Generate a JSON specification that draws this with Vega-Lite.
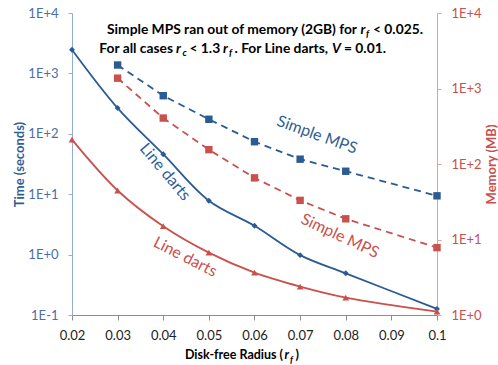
{
  "$schema": "https://vega.github.io/schema/vega-lite/v6.json",
  "autosize": "none",
  "width": 365,
  "height": 302,
  "padding": {"left": 72, "top": 13, "right": 61, "bottom": 50},
  "background": "white",
  "config": {"view": {"stroke": null}, "font": "Lato"},
  "datasets": {
    "rows": [
      {"r": 0.02, "method": "Line darts", "time": 2470, "memory": 210},
      {"r": 0.03, "method": "Line darts", "time": 267, "memory": 44.6},
      {"r": 0.04, "method": "Line darts", "time": 46, "memory": 15},
      {"r": 0.05, "method": "Line darts", "time": 7.8, "memory": 6.7},
      {"r": 0.06, "method": "Line darts", "time": 3.0, "memory": 3.64},
      {"r": 0.07, "method": "Line darts", "time": 0.98, "memory": 2.38},
      {"r": 0.08, "method": "Line darts", "time": 0.49, "memory": 1.70},
      {"r": 0.1, "method": "Line darts", "time": 0.126, "memory": 1.11},
      {"r": 0.03, "method": "Simple MPS", "time": 1377, "memory": 1370},
      {"r": 0.04, "method": "Simple MPS", "time": 427, "memory": 406},
      {"r": 0.05, "method": "Simple MPS", "time": 174, "memory": 155},
      {"r": 0.06, "method": "Simple MPS", "time": 74, "memory": 65.5},
      {"r": 0.07, "method": "Simple MPS", "time": 38, "memory": 33},
      {"r": 0.08, "method": "Simple MPS", "time": 24, "memory": 18.8},
      {"r": 0.1, "method": "Simple MPS", "time": 9.4, "memory": 7.8}
    ],
    "one": [{"k": 1}]
  },
  "resolve": {"scale": {"y": "independent"}},
  "layer": [
    {
      "layer": [
        {"data": {"name": "rows"},
         "transform": [{"filter": "datum.method === 'Line darts'"}],
         "mark": {"type": "line", "color": "#2a5b92", "strokeWidth": 1.8, "interpolate": "catmull-rom"},
         "encoding": {
          "x": {"field": "r", "type": "quantitative",
            "scale": {"domain": [0.02, 0.1], "nice": false, "zero": false},
            "axis": {"values": [0.02, 0.03, 0.04, 0.05, 0.06, 0.07, 0.08, 0.09, 0.1], "format": ".2~f",
              "title": null, "grid": false, "domainColor": "#8c8c8c", "tickColor": "#8c8c8c", "tickSize": 5,
              "labelFont": "Lato", "labelFontSize": 13, "labelColor": "#222222", "labelPadding": 9, "labelFlush": false}},
          "y": {"field": "time", "type": "quantitative",
            "scale": {"type": "log", "domain": [0.1, 10000], "nice": false},
            "axis": {"values": [0.1, 1, 10, 100, 1000, 10000],
              "labelExpr": "'1E' + (datum.value >= 1 ? '+' : '') + round(log(datum.value)/LN10)",
              "grid": false, "domainColor": "#93add0", "tickColor": "#93add0", "tickSize": 4,
              "labelFont": "Lato", "labelFontSize": 13, "labelColor": "#4a6ea6", "labelPadding": 10,
              "title": "Time (seconds)", "titleFont": "Lato", "titleFontSize": 13, "titleFontWeight": "bold",
              "titleColor": "#2f5e96", "titlePadding": 1}}
         }},
        {"data": {"name": "rows"},
         "transform": [{"filter": "datum.method === 'Line darts'"}],
         "mark": {"type": "point", "shape": "diamond", "filled": true, "size": 35, "color": "#2a5b92", "opacity": 1},
         "encoding": {"x": {"field": "r", "type": "quantitative"}, "y": {"field": "time", "type": "quantitative"}}},
        {"data": {"name": "rows"},
         "transform": [{"filter": "datum.method === 'Simple MPS'"}],
         "mark": {"type": "line", "color": "#2a5b92", "strokeWidth": 1.8, "strokeDash": [7, 5]},
         "encoding": {"x": {"field": "r", "type": "quantitative"}, "y": {"field": "time", "type": "quantitative"}}},
        {"data": {"name": "rows"},
         "transform": [{"filter": "datum.method === 'Simple MPS'"}],
         "mark": {"type": "point", "shape": "square", "filled": true, "size": 55, "color": "#2a5b92", "opacity": 1},
         "encoding": {"x": {"field": "r", "type": "quantitative"}, "y": {"field": "time", "type": "quantitative"}}},
        {"data": {"name": "one"},
         "mark": {"type": "text", "text": "Simple MPS", "font": "Lato", "fontSize": 16, "color": "#2f5e96", "angle": 20, "align": "center", "baseline": "middle"},
         "encoding": {"x": {"datum": 0.0737, "type": "quantitative"}, "y": {"datum": 95.5, "type": "quantitative"}}},
        {"data": {"name": "one"},
         "mark": {"type": "text", "text": "Line darts", "font": "Lato", "fontSize": 16, "color": "#2f5e96", "angle": 50, "align": "center", "baseline": "middle"},
         "encoding": {"x": {"datum": 0.0404, "type": "quantitative"}, "y": {"datum": 23.3, "type": "quantitative"}}},
        {"data": {"name": "one"},
         "mark": {"type": "text", "text": "Simple MPS", "font": "Lato", "fontSize": 16, "color": "#c9504c", "angle": 25, "align": "center", "baseline": "middle"},
         "encoding": {"x": {"datum": 0.0787, "type": "quantitative"}, "y": {"datum": 2.03, "type": "quantitative"}}},
        {"data": {"name": "one"},
         "mark": {"type": "text", "text": "Line darts", "font": "Lato", "fontSize": 16, "color": "#c9504c", "angle": 27, "align": "center", "baseline": "middle"},
         "encoding": {"x": {"datum": 0.0448, "type": "quantitative"}, "y": {"datum": 0.913, "type": "quantitative"}}},
        {"data": {"name": "one"},
         "mark": {"type": "text", "text": "Simple MPS ran out of memory (2GB) for", "font": "Lato", "fontSize": 13.8, "fontWeight": "bold", "color": "#000000", "align": "right", "baseline": "alphabetic"},
         "encoding": {"x": {"datum": 0.082466, "type": "quantitative"}, "y": {"datum": 4490, "type": "quantitative"}}},
        {"data": {"name": "one"},
         "mark": {"type": "text", "text": "r", "font": "Lato", "fontSize": 13.8, "fontWeight": "bold", "fontStyle": "italic", "color": "#000000", "align": "left", "baseline": "alphabetic"},
         "encoding": {"x": {"datum": 0.083233, "type": "quantitative"}, "y": {"datum": 4490, "type": "quantitative"}}},
        {"data": {"name": "one"},
         "mark": {"type": "text", "text": "f", "font": "Lato", "fontSize": 9.5, "fontWeight": "bold", "fontStyle": "italic", "color": "#000000", "align": "left", "baseline": "alphabetic"},
         "encoding": {"x": {"datum": 0.084438, "type": "quantitative"}, "y": {"datum": 3930, "type": "quantitative"}}},
        {"data": {"name": "one"},
         "mark": {"type": "text", "text": "< 0.025.", "font": "Lato", "fontSize": 13.8, "fontWeight": "bold", "color": "#000000", "align": "left", "baseline": "alphabetic"},
         "encoding": {"x": {"datum": 0.085973, "type": "quantitative"}, "y": {"datum": 4490, "type": "quantitative"}}},
        {"data": {"name": "one"},
         "mark": {"type": "text", "text": "For all cases", "font": "Lato", "fontSize": 13.8, "fontWeight": "bold", "color": "#000000", "align": "right", "baseline": "alphabetic"},
         "encoding": {"x": {"datum": 0.042137, "type": "quantitative"}, "y": {"datum": 2201, "type": "quantitative"}}},
        {"data": {"name": "one"},
         "mark": {"type": "text", "text": "r", "font": "Lato", "fontSize": 13.8, "fontWeight": "bold", "fontStyle": "italic", "color": "#000000", "align": "left", "baseline": "alphabetic"},
         "encoding": {"x": {"datum": 0.042795, "type": "quantitative"}, "y": {"datum": 2201, "type": "quantitative"}}},
        {"data": {"name": "one"},
         "mark": {"type": "text", "text": "c", "font": "Lato", "fontSize": 9.5, "fontWeight": "bold", "fontStyle": "italic", "color": "#000000", "align": "left", "baseline": "alphabetic"},
         "encoding": {"x": {"datum": 0.044219, "type": "quantitative"}, "y": {"datum": 1927, "type": "quantitative"}}},
        {"data": {"name": "one"},
         "mark": {"type": "text", "text": "< 1.3", "font": "Lato", "fontSize": 13.8, "fontWeight": "bold", "color": "#000000", "align": "left", "baseline": "alphabetic"},
         "encoding": {"x": {"datum": 0.045753, "type": "quantitative"}, "y": {"datum": 2201, "type": "quantitative"}}},
        {"data": {"name": "one"},
         "mark": {"type": "text", "text": "r", "font": "Lato", "fontSize": 13.8, "fontWeight": "bold", "fontStyle": "italic", "color": "#000000", "align": "left", "baseline": "alphabetic"},
         "encoding": {"x": {"datum": 0.053096, "type": "quantitative"}, "y": {"datum": 2201, "type": "quantitative"}}},
        {"data": {"name": "one"},
         "mark": {"type": "text", "text": "f", "font": "Lato", "fontSize": 9.5, "fontWeight": "bold", "fontStyle": "italic", "color": "#000000", "align": "left", "baseline": "alphabetic"},
         "encoding": {"x": {"datum": 0.054411, "type": "quantitative"}, "y": {"datum": 1927, "type": "quantitative"}}},
        {"data": {"name": "one"},
         "mark": {"type": "text", "text": ". For Line darts,", "font": "Lato", "fontSize": 13.8, "fontWeight": "bold", "color": "#000000", "align": "left", "baseline": "alphabetic"},
         "encoding": {"x": {"datum": 0.055616, "type": "quantitative"}, "y": {"datum": 2201, "type": "quantitative"}}},
        {"data": {"name": "one"},
         "mark": {"type": "text", "text": "V", "font": "Lato", "fontSize": 13.8, "fontWeight": "bold", "fontStyle": "italic", "color": "#000000", "align": "left", "baseline": "alphabetic"},
         "encoding": {"x": {"datum": 0.076986, "type": "quantitative"}, "y": {"datum": 2201, "type": "quantitative"}}},
        {"data": {"name": "one"},
         "mark": {"type": "text", "text": "= 0.01.", "font": "Lato", "fontSize": 13.8, "fontWeight": "bold", "color": "#000000", "align": "left", "baseline": "alphabetic"},
         "encoding": {"x": {"datum": 0.079616, "type": "quantitative"}, "y": {"datum": 2201, "type": "quantitative"}}},
        {"data": {"name": "one"},
         "mark": {"type": "text", "text": "Disk-free Radius (", "font": "Lato", "fontSize": 12.5, "fontWeight": "bold", "color": "#000000", "align": "right", "baseline": "alphabetic"},
         "encoding": {"x": {"datum": 0.06625, "type": "quantitative"}, "y": {"datum": 0.01845, "type": "quantitative"}}},
        {"data": {"name": "one"},
         "mark": {"type": "text", "text": "r", "font": "Lato", "fontSize": 12.5, "fontWeight": "bold", "fontStyle": "italic", "color": "#000000", "align": "left", "baseline": "alphabetic"},
         "encoding": {"x": {"datum": 0.06658, "type": "quantitative"}, "y": {"datum": 0.01845, "type": "quantitative"}}},
        {"data": {"name": "one"},
         "mark": {"type": "text", "text": "f", "font": "Lato", "fontSize": 9, "fontWeight": "bold", "fontStyle": "italic", "color": "#000000", "align": "left", "baseline": "alphabetic"},
         "encoding": {"x": {"datum": 0.06778, "type": "quantitative"}, "y": {"datum": 0.01620, "type": "quantitative"}}},
        {"data": {"name": "one"},
         "mark": {"type": "text", "text": ")", "font": "Lato", "fontSize": 12.5, "fontWeight": "bold", "color": "#000000", "align": "left", "baseline": "alphabetic"},
         "encoding": {"x": {"datum": 0.06899, "type": "quantitative"}, "y": {"datum": 0.01845, "type": "quantitative"}}}
      ]
    },
    {
      "data": {"name": "rows"},
      "encoding": {
        "x": {"field": "r", "type": "quantitative"},
        "y": {"field": "memory", "type": "quantitative",
          "scale": {"type": "log", "domain": [1, 10000], "nice": false},
          "axis": {"orient": "right", "values": [1, 10, 100, 1000, 10000],
            "labelExpr": "'1E' + (datum.value >= 1 ? '+' : '') + round(log(datum.value)/LN10)",
            "grid": false, "domainColor": "#d9a3a1", "tickColor": "#d9a3a1", "tickSize": 4,
            "labelFont": "Lato", "labelFontSize": 13, "labelColor": "#c9504c", "labelPadding": 10,
            "title": "Memory (MB)", "titleAngle": 270, "titleFont": "Lato", "titleFontSize": 13, "titleFontWeight": "bold",
            "titleColor": "#c9504c", "titlePadding": 17}}
      },
      "layer": [
        {"transform": [{"filter": "datum.method === 'Line darts'"}],
         "mark": {"type": "line", "color": "#c9504c", "strokeWidth": 1.8, "interpolate": "catmull-rom"}},
        {"transform": [{"filter": "datum.method === 'Line darts'"}],
         "mark": {"type": "point", "shape": "triangle-up", "filled": true, "size": 45, "color": "#c9504c", "opacity": 1}},
        {"transform": [{"filter": "datum.method === 'Simple MPS'"}],
         "mark": {"type": "line", "color": "#c9504c", "strokeWidth": 1.8, "strokeDash": [7, 5]}},
        {"transform": [{"filter": "datum.method === 'Simple MPS'"}],
         "mark": {"type": "point", "shape": "square", "filled": true, "size": 55, "color": "#c9504c", "opacity": 1}}
      ]
    }
  ]
}
